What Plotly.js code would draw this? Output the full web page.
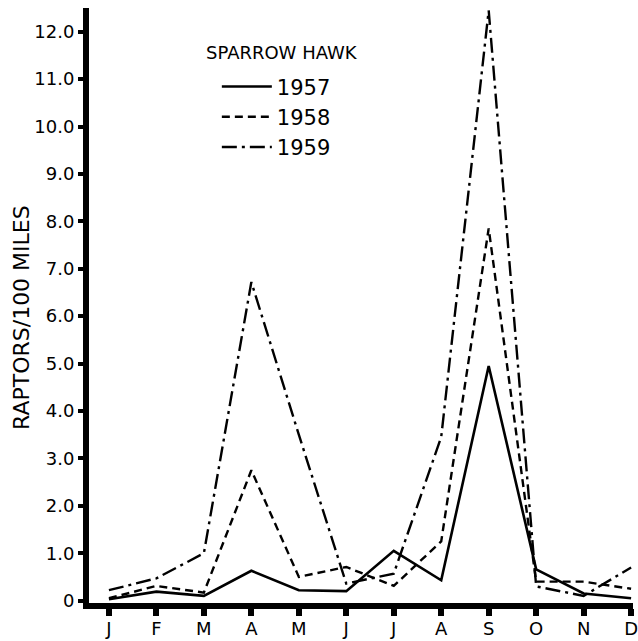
<!DOCTYPE html>
<html>
<head>
<meta charset="utf-8">
<script src="https://cdn.plot.ly/plotly-3.0.1.min.js"></script>
<style>
  html, body { margin: 0; padding: 0; background: #fff; }
  #chart { width: 638px; height: 641px; }
</style>
</head>
<body>
<div id="chart"></div>
<script>
// Month categories (positions 0..11) and tick labels
const monthIndex = [0, 1, 2, 3, 4, 5, 6, 7, 8, 9, 10, 11];
const monthLabels = ["J", "F", "M", "A", "M", "J", "J", "A", "S", "O", "N", "D"];

// Raptors per 100 miles, Sparrow Hawk
const y1957 = [0.03, 0.19, 0.10, 0.63, 0.22, 0.20, 1.05, 0.43, 4.95, 0.66, 0.15, 0.05];
const y1958 = [0.05, 0.31, 0.17, 2.75, 0.50, 0.71, 0.31, 1.25, 7.85, 0.40, 0.40, 0.25];
const y1959 = [0.22, 0.47, 1.00, 6.72, 3.50, 0.36, 0.57, 3.45, 12.45, 0.30, 0.10, 0.70];

const seriesNames = ["1957", "1958", "1959"];
const legendTitle = "SPARROW HAWK";
const yTitle = "RAPTORS/100 MILES";

const yTickVals = [0, 1, 2, 3, 4, 5, 6, 7, 8, 9, 10, 11, 12];
const yTickText = ["0", "1.0", "2.0", "3.0", "4.0", "5.0", "6.0", "7.0", "8.0", "9.0", "10.0", "11.0", "12.0"];

const FONT = "DejaVu Sans, Liberation Sans, sans-serif";

const traces = [
  { x: monthIndex, y: y1957, name: seriesNames[0], mode: "lines",
    line: { color: "#000", width: 2.6, dash: "solid" } },
  { x: monthIndex, y: y1958, name: seriesNames[1], mode: "lines",
    line: { color: "#000", width: 2.4, dash: "8px,5px" } },
  { x: monthIndex, y: y1959, name: seriesNames[2], mode: "lines",
    line: { color: "#000", width: 2.4, dash: "15px,5px,3px,5px" } }
];

const layout = {
  width: 638, height: 641,
  margin: { l: 89, r: 5, t: 8, b: 38, pad: 0 },
  paper_bgcolor: "#fff", plot_bgcolor: "#fff",
  font: { family: FONT, color: "#000", size: 18 },
  showlegend: true,
  legend: {
    x: 0.235, y: 0.902, xanchor: "left", yanchor: "top",
    bgcolor: "rgba(0,0,0,0)", borderwidth: 0,
    itemwidth: 50,
    font: { size: 21, family: FONT },
    tracegroupgap: 0
  },
  annotations: [
    { text: legendTitle, xref: "paper", yref: "paper",
      x: (204 - 89) / 544, y: (603 - 53) / 595, xanchor: "left", yanchor: "middle",
      showarrow: false, font: { size: 18, family: FONT } },
    { text: yTitle, xref: "paper", yref: "paper", textangle: -90,
      x: (22 - 89) / 544, y: (603 - 318) / 595, xanchor: "center", yanchor: "middle",
      showarrow: false, font: { size: 22, family: FONT } }
  ],
  xaxis: {
    range: [-0.42, 11.04],
    tickvals: monthIndex, ticktext: monthLabels,
    showgrid: false, zeroline: false,
    showline: true, linecolor: "#000", linewidth: 6,
    ticks: "outside", ticklen: 7, tickwidth: 6, tickcolor: "#000",
    ticklabeloverflow: "allow",
    ticklabelstandoff: -3,
    tickfont: { size: 18, family: FONT }
  },
  yaxis: {
    range: [-0.05, 12.5],
    tickvals: yTickVals, ticktext: yTickText,
    showgrid: false, zeroline: false,
    showline: true, linecolor: "#000", linewidth: 6,
    ticks: "outside", ticklen: 5, tickwidth: 4, tickcolor: "#000",
    tickfont: { size: 18, family: FONT }
  }
};

Plotly.newPlot("chart", traces, layout, { displayModeBar: false, staticPlot: true });
</script>
</body>
</html>
